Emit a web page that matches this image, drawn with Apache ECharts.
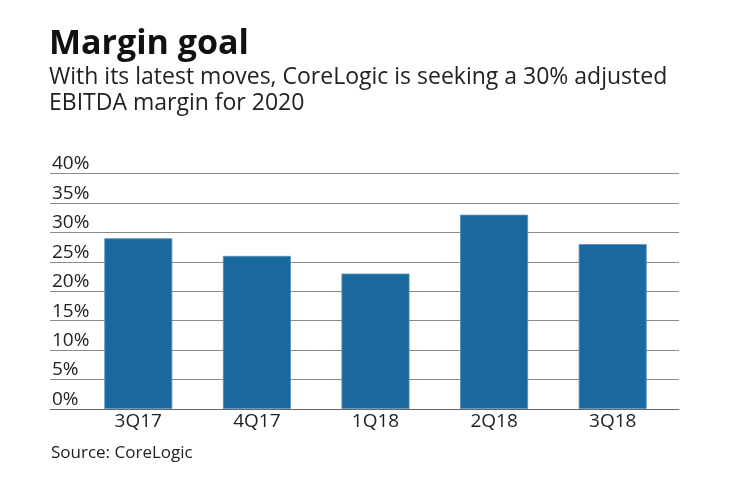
<!DOCTYPE html>
<html>
<head>
<meta charset="utf-8">
<script src="https://cdn.jsdelivr.net/npm/echarts@6/dist/echarts.min.js"></script>
<style>html,body{margin:0;padding:0;background:#fff}#c{width:740px;height:482px}</style>
</head>
<body>
<div id="c"></div>
<script>
const categories = ['3Q17', '4Q17', '1Q18', '2Q18', '3Q18'];
const margins = [29, 26, 23, 33, 28];
const yTicks = { min: 0, max: 40, interval: 5 };

const FONT = '"Open Sans", Lato, sans-serif';
const chart = echarts.init(document.getElementById('c'));
chart.setOption({
  animation: false,
  title: [
    { text: 'Margin goal', left: 44, top: 22, textStyle: { fontFamily: FONT, fontSize: 34, fontWeight: 'bold', color: '#111' } },
    { text: 'With its latest moves, CoreLogic is seeking a 30% adjusted\nEBITDA margin for 2020', left: 44, top: 59,
      textStyle: { fontFamily: FONT, fontSize: 23, fontWeight: 'normal', color: '#222', lineHeight: 26 } },
    { text: 'Source: CoreLogic', left: 46, top: 440, textStyle: { fontFamily: FONT, fontSize: 17, fontWeight: 'normal', color: '#222' } }
  ],
  grid: [
    { left: 50, right: 61, top: 173.5, bottom: 73 },
    { left: 79, right: 68, top: 173.5, bottom: 73 }
  ],
  xAxis: [
    { gridIndex: 0, type: 'category', data: categories, axisLine: { show: true, lineStyle: { color: '#666', width: 1.2 } },
      axisTick: { show: false }, axisLabel: { show: false } },
    { gridIndex: 1, type: 'category', data: categories, axisLine: { show: false }, axisTick: { show: false },
      axisLabel: { margin: 3, fontFamily: FONT, fontSize: 19, color: '#222' } }
  ],
  yAxis: [
    { gridIndex: 0, type: 'value', min: yTicks.min, max: yTicks.max, interval: yTicks.interval,
      axisLine: { show: false }, axisTick: { show: false },
      splitLine: { lineStyle: { color: '#8a8a8a', width: 1.2 } },
      axisLabel: { inside: true, formatter: '{value}%', verticalAlign: 'bottom', margin: 2, padding: [0, 0, 0, 0],
        fontFamily: FONT, fontSize: 19, color: '#222' } },
    { gridIndex: 1, type: 'value', min: yTicks.min, max: yTicks.max, interval: yTicks.interval, show: false, splitLine: { show: false } }
  ],
  series: [
    { type: 'bar', xAxisIndex: 1, yAxisIndex: 1, data: margins, barWidth: 68,
      itemStyle: { color: '#1b689e', borderColor: '#5a91bd', borderWidth: 0.8 } }
  ]
});
</script>
</body>
</html>
